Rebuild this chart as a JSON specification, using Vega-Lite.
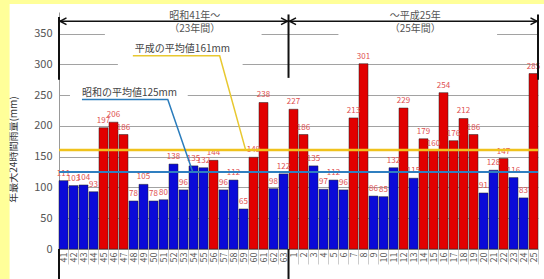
{
  "$schema": "https://vega.github.io/schema/vega-lite/v6.json",
  "width": 479,
  "height": 237,
  "autosize": {"type": "none"},
  "padding": {"left": 59, "top": 12, "right": 6, "bottom": 30},
  "background": "white",
  "config": {"font": "Noto Sans CJK JP", "view": {"stroke": null}},
  "datasets": {
    "rain": [
      {"i": 0, "label": "41", "v": 111, "g": "L"},
      {"i": 1, "label": "42", "v": 103, "g": "L"},
      {"i": 2, "label": "43", "v": 104, "g": "L"},
      {"i": 3, "label": "44", "v": 93, "g": "L"},
      {"i": 4, "label": "45", "v": 197, "g": "H"},
      {"i": 5, "label": "46", "v": 206, "g": "H"},
      {"i": 6, "label": "47", "v": 186, "g": "H"},
      {"i": 7, "label": "48", "v": 78, "g": "L"},
      {"i": 8, "label": "49", "v": 105, "g": "L"},
      {"i": 9, "label": "50", "v": 78, "g": "L"},
      {"i": 10, "label": "51", "v": 80, "g": "L"},
      {"i": 11, "label": "52", "v": 138, "g": "L"},
      {"i": 12, "label": "53", "v": 96, "g": "L"},
      {"i": 13, "label": "54", "v": 135, "g": "L"},
      {"i": 14, "label": "55", "v": 132, "g": "L"},
      {"i": 15, "label": "56", "v": 144, "g": "H"},
      {"i": 16, "label": "57", "v": 96, "g": "L"},
      {"i": 17, "label": "58", "v": 112, "g": "L"},
      {"i": 18, "label": "59", "v": 65, "g": "L"},
      {"i": 19, "label": "60", "v": 149, "g": "H"},
      {"i": 20, "label": "61", "v": 238, "g": "H"},
      {"i": 21, "label": "62", "v": 98, "g": "L"},
      {"i": 22, "label": "63", "v": 122, "g": "L"},
      {"i": 23, "label": "1", "v": 227, "g": "H"},
      {"i": 24, "label": "2", "v": 186, "g": "H"},
      {"i": 25, "label": "3", "v": 135, "g": "L"},
      {"i": 26, "label": "4", "v": 97, "g": "L"},
      {"i": 27, "label": "5", "v": 112, "g": "L"},
      {"i": 28, "label": "6", "v": 96, "g": "L"},
      {"i": 29, "label": "7", "v": 213, "g": "H"},
      {"i": 30, "label": "8", "v": 301, "g": "H"},
      {"i": 31, "label": "9", "v": 86, "g": "L"},
      {"i": 32, "label": "10", "v": 85, "g": "L"},
      {"i": 33, "label": "11", "v": 132, "g": "L"},
      {"i": 34, "label": "12", "v": 229, "g": "H"},
      {"i": 35, "label": "13", "v": 115, "g": "L"},
      {"i": 36, "label": "14", "v": 179, "g": "H"},
      {"i": 37, "label": "15", "v": 160, "g": "H"},
      {"i": 38, "label": "16", "v": 254, "g": "H"},
      {"i": 39, "label": "17", "v": 176, "g": "H"},
      {"i": 40, "label": "18", "v": 212, "g": "H"},
      {"i": 41, "label": "19", "v": 186, "g": "H"},
      {"i": 42, "label": "20", "v": 91, "g": "L"},
      {"i": 43, "label": "21", "v": 128, "g": "L"},
      {"i": 44, "label": "22", "v": 147, "g": "H"},
      {"i": 45, "label": "23", "v": 116, "g": "L"},
      {"i": 46, "label": "24", "v": 83, "g": "L"},
      {"i": 47, "label": "25", "v": 285, "g": "H"}
    ],
    "yellowBorder": [
      {"x": -5.95, "x2": -4.95, "y": -60, "y2": 410},
      {"x": -5.95, "x2": 49, "y": 398, "y2": 410}
    ],
    "whiteBoxes": [
      {"x": 4.6, "x2": 20.3, "y": 336, "y2": 362},
      {"x": 28.0, "x2": 43.9, "y": 336, "y2": 362},
      {"x": 5.9, "x2": 18.4, "y": 290, "y2": 320},
      {"x": 1.1, "x2": 12.9, "y": 238, "y2": 263}
    ],
    "avgBlue": [{"x": 0, "x2": 48, "y": 125}],
    "avgYellow": [{"x": 0, "x2": 48, "y": 161}],
    "leadYellow": [
      {"o": 1, "x": 7.4, "y": 314},
      {"o": 2, "x": 16.1, "y": 314},
      {"o": 3, "x": 18.7, "y": 161}
    ],
    "leadBlue": [
      {"o": 1, "x": 2.3, "y": 243},
      {"o": 2, "x": 10.9, "y": 243},
      {"o": 3, "x": 13.4, "y": 125}
    ],
    "vlines": [
      {"x": 0, "y": 275, "y2": 377},
      {"x": 23, "y": 278, "y2": 381},
      {"x": 48, "y": 275, "y2": 381},
      {"x": 0, "y": 0, "y2": -50},
      {"x": 23, "y": 0, "y2": -50}
    ],
    "hline": [{"x": 0, "x2": 48, "y": 370}],
    "chevrons": [
      {"k": "a", "o": 1, "x": 0.75, "y": 375.5},
      {"k": "a", "o": 2, "x": 0.1, "y": 370},
      {"k": "a", "o": 3, "x": 0.75, "y": 364.5},
      {"k": "b", "o": 1, "x": 22.25, "y": 375.5},
      {"k": "b", "o": 2, "x": 22.9, "y": 370},
      {"k": "b", "o": 3, "x": 22.25, "y": 364.5},
      {"k": "c", "o": 1, "x": 23.75, "y": 375.5},
      {"k": "c", "o": 2, "x": 23.1, "y": 370},
      {"k": "c", "o": 3, "x": 23.75, "y": 364.5},
      {"k": "d", "o": 1, "x": 47.25, "y": 375.5},
      {"k": "d", "o": 2, "x": 47.9, "y": 370},
      {"k": "d", "o": 3, "x": 47.25, "y": 364.5}
    ],
    "topTexts": [
      {"x": 13.6, "y": 378, "t": "昭和41年～"},
      {"x": 13.6, "y": 358, "t": "（23年間）"},
      {"x": 35.7, "y": 378, "t": "～平成25年"},
      {"x": 35.7, "y": 358, "t": "（25年間）"}
    ],
    "avgTexts": [
      {"x": 7.6, "y": 325, "t": "平成の平均値161mm"},
      {"x": 2.3, "y": 254, "t": "昭和の平均値125mm"}
    ]
  },
  "layer": [
    {
      "data": {"name": "rain"},
      "encoding": {
        "x": {
          "field": "label",
          "type": "ordinal",
          "sort": {"field": "i"},
          "scale": {"paddingInner": 0.1, "paddingOuter": 0},
          "axis": {
            "title": null,
            "labelAngle": -90,
            "labelFontSize": 9,
            "labelColor": "#555",
            "labelPadding": -12,
            "ticks": true,
            "tickBand": "extent",
            "tickColor": "#ccc",
            "tickSize": 15,
            "domainColor": "#999"
          }
        },
        "y": {
          "field": "v",
          "type": "quantitative",
          "scale": {"domain": [0, 385], "nice": false},
          "axis": {
            "title": "年最大24時間雨量(mm)",
            "values": [0, 50, 100, 150, 200, 250, 300, 350],
            "grid": true,
            "gridColor": "#8a8a8a",
            "gridWidth": 0.8,
            "ticks": false,
            "domainColor": "#999",
            "labelColor": "#555",
            "labelFontSize": 11,
            "labelPadding": 7,
            "titleFontSize": 10,
            "titleFontWeight": "normal",
            "titleColor": "#333",
            "titleX": -41,
            "titleY": 137
          }
        }
      },
      "layer": [
        {
          "mark": {"type": "bar", "stroke": "#222", "strokeWidth": 0.5},
          "encoding": {
            "color": {
              "field": "g",
              "type": "nominal",
              "scale": {"domain": ["H", "L"], "range": ["#e20000", "#0a0ad8"]},
              "legend": null
            }
          }
        },
        {
          "mark": {"type": "text", "baseline": "bottom", "dy": -3, "fontSize": 8, "color": "#e05050"},
          "encoding": {"text": {"field": "v", "type": "quantitative"}}
        }
      ]
    },
    {
      "data": {"name": "yellowBorder"},
      "mark": {"type": "rect", "fill": "#ffff99"},
      "encoding": {
        "x": {"field": "x", "type": "quantitative", "scale": {"domain": [0, 48], "nice": false, "zero": false}, "axis": null},
        "x2": {"field": "x2"},
        "y": {"field": "y", "type": "quantitative", "scale": {"domain": [0, 385], "nice": false}, "axis": null},
        "y2": {"field": "y2"}
      }
    },
    {
      "data": {"name": "whiteBoxes"},
      "mark": {"type": "rect", "fill": "white"},
      "encoding": {
        "x": {"field": "x", "type": "quantitative", "scale": {"domain": [0, 48], "nice": false, "zero": false}, "axis": null},
        "x2": {"field": "x2"},
        "y": {"field": "y", "type": "quantitative", "scale": {"domain": [0, 385], "nice": false}, "axis": null},
        "y2": {"field": "y2"}
      }
    },
    {
      "data": {"name": "avgYellow"},
      "mark": {"type": "rule", "color": "#f0c21c", "strokeWidth": 2.5},
      "encoding": {
        "x": {"field": "x", "type": "quantitative", "scale": {"domain": [0, 48], "nice": false, "zero": false}, "axis": null},
        "x2": {"field": "x2"},
        "y": {"field": "y", "type": "quantitative", "scale": {"domain": [0, 385], "nice": false}, "axis": null}
      }
    },
    {
      "data": {"name": "avgBlue"},
      "mark": {"type": "rule", "color": "#2f7fc0", "strokeWidth": 2},
      "encoding": {
        "x": {"field": "x", "type": "quantitative", "scale": {"domain": [0, 48], "nice": false, "zero": false}, "axis": null},
        "x2": {"field": "x2"},
        "y": {"field": "y", "type": "quantitative", "scale": {"domain": [0, 385], "nice": false}, "axis": null}
      }
    },
    {
      "data": {"name": "leadYellow"},
      "mark": {"type": "line", "color": "#e8c830", "strokeWidth": 1.5},
      "encoding": {
        "x": {"field": "x", "type": "quantitative", "scale": {"domain": [0, 48], "nice": false, "zero": false}, "axis": null},
        "y": {"field": "y", "type": "quantitative", "scale": {"domain": [0, 385], "nice": false}, "axis": null},
        "order": {"field": "o"}
      }
    },
    {
      "data": {"name": "leadBlue"},
      "mark": {"type": "line", "color": "#2a7cbc", "strokeWidth": 1.5},
      "encoding": {
        "x": {"field": "x", "type": "quantitative", "scale": {"domain": [0, 48], "nice": false, "zero": false}, "axis": null},
        "y": {"field": "y", "type": "quantitative", "scale": {"domain": [0, 385], "nice": false}, "axis": null},
        "order": {"field": "o"}
      }
    },
    {
      "data": {"name": "hline"},
      "mark": {"type": "rule", "color": "#111", "strokeWidth": 1.5},
      "encoding": {
        "x": {"field": "x", "type": "quantitative", "scale": {"domain": [0, 48], "nice": false, "zero": false}, "axis": null},
        "x2": {"field": "x2"},
        "y": {"field": "y", "type": "quantitative", "scale": {"domain": [0, 385], "nice": false}, "axis": null}
      }
    },
    {
      "data": {"name": "vlines"},
      "mark": {"type": "rule", "color": "#111", "strokeWidth": 2},
      "encoding": {
        "x": {"field": "x", "type": "quantitative", "scale": {"domain": [0, 48], "nice": false, "zero": false}, "axis": null},
        "y": {"field": "y", "type": "quantitative", "scale": {"domain": [0, 385], "nice": false}, "axis": null},
        "y2": {"field": "y2"}
      }
    },
    {
      "data": {"name": "chevrons"},
      "mark": {"type": "line", "color": "#111", "strokeWidth": 1.5},
      "encoding": {
        "x": {"field": "x", "type": "quantitative", "scale": {"domain": [0, 48], "nice": false, "zero": false}, "axis": null},
        "y": {"field": "y", "type": "quantitative", "scale": {"domain": [0, 385], "nice": false}, "axis": null},
        "detail": {"field": "k", "type": "nominal"},
        "order": {"field": "o"}
      }
    },
    {
      "data": {"name": "topTexts"},
      "mark": {"type": "text", "fontSize": 10, "color": "#555", "align": "center", "baseline": "middle"},
      "encoding": {
        "x": {"field": "x", "type": "quantitative", "scale": {"domain": [0, 48], "nice": false, "zero": false}, "axis": null},
        "y": {"field": "y", "type": "quantitative", "scale": {"domain": [0, 385], "nice": false}, "axis": null},
        "text": {"field": "t", "type": "nominal"}
      }
    },
    {
      "data": {"name": "avgTexts"},
      "mark": {"type": "text", "fontSize": 10, "color": "#444", "align": "left", "baseline": "middle"},
      "encoding": {
        "x": {"field": "x", "type": "quantitative", "scale": {"domain": [0, 48], "nice": false, "zero": false}, "axis": null},
        "y": {"field": "y", "type": "quantitative", "scale": {"domain": [0, 385], "nice": false}, "axis": null},
        "text": {"field": "t", "type": "nominal"}
      }
    }
  ],
  "resolve": {"scale": {"x": "independent", "y": "independent"}}
}
